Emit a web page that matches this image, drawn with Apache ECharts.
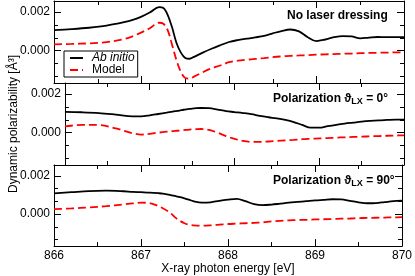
<!DOCTYPE html>
<html>
<head>
<meta charset="utf-8">
<script src="https://cdn.jsdelivr.net/npm/echarts@6/dist/echarts.min.js"></script>
<style>html,body{margin:0;padding:0;background:#fff;}#c{width:415px;height:276px;}</style>
</head>
<body>
<div id="c"></div>
<script>
// ---- data ----
const energy = [866.0, 866.2, 866.4, 866.6, 866.8, 866.9, 867.0, 867.1, 867.2, 867.25, 867.3, 867.35, 867.4, 867.45, 867.5, 867.55, 867.6, 867.7, 867.8, 867.9, 868.0, 868.1, 868.2, 868.3, 868.4, 868.5, 868.6, 868.7, 868.8, 868.9, 869.0, 869.1, 869.2, 869.3, 869.4, 869.5, 869.6, 869.7, 869.8, 869.9, 870.0];

const abInitioNoLaser = [0.00107, 0.00112, 0.00119, 0.00130, 0.00148, 0.00160, 0.00177, 0.00200, 0.00226, 0.00222, 0.00185, 0.00120, 0.00040, -0.00010, -0.00038, -0.00042, -0.00032, -0.00010, 0.00010, 0.00028, 0.00045, 0.00055, 0.00062, 0.00069, 0.00077, 0.00090, 0.00102, 0.00110, 0.00100, 0.00070, 0.00050, 0.00058, 0.00070, 0.00076, 0.00074, 0.00064, 0.00068, 0.00071, 0.00070, 0.00070, 0.00070];
const modelNoLaser = [0.00033, 0.00035, 0.00038, 0.00044, 0.00060, 0.00075, 0.00095, 0.00118, 0.00145, 0.00140, 0.00105, 0.00030, -0.00050, -0.00110, -0.00142, -0.00145, -0.00135, -0.00112, -0.00092, -0.00077, -0.00060, -0.00052, -0.00047, -0.00043, -0.00039, -0.00034, -0.00030, -0.00027, -0.00025, -0.00023, -0.00021, -0.00019, -0.00018, -0.00016, -0.00015, -0.00013, -0.00012, -0.00011, -0.00010, -0.00009, -0.00008];

const abInitioPol0 = [0.00108, 0.00106, 0.00102, 0.00094, 0.00085, 0.00085, 0.00090, 0.00097, 0.00104, 0.00108, 0.00112, 0.00115, 0.00119, 0.00122, 0.00125, 0.00127, 0.00128, 0.00127, 0.00120, 0.00112, 0.00107, 0.00102, 0.00096, 0.00087, 0.00080, 0.00074, 0.00066, 0.00055, 0.00040, 0.00026, 0.00026, 0.00034, 0.00041, 0.00047, 0.00052, 0.00057, 0.00061, 0.00064, 0.00066, 0.00068, 0.00068];
const modelPol0 = [0.00033, 0.00040, 0.00040, 0.00022, -0.00003, -0.00010, -0.00006, 0.00000, 0.00005, 0.00007, 0.00009, 0.00011, 0.00013, 0.00015, 0.00017, 0.00018, 0.00019, 0.00014, 0.00000, -0.00018, -0.00032, -0.00043, -0.00048, -0.00048, -0.00046, -0.00043, -0.00040, -0.00037, -0.00034, -0.00032, -0.00030, -0.00028, -0.00026, -0.00024, -0.00022, -0.00021, -0.00019, -0.00018, -0.00016, -0.00015, -0.00014];

const abInitioPol90 = [0.00109, 0.00115, 0.00121, 0.00123, 0.00120, 0.00117, 0.00115, 0.00113, 0.00110, 0.00108, 0.00104, 0.00099, 0.00094, 0.00089, 0.00083, 0.00076, 0.00068, 0.00060, 0.00062, 0.00070, 0.00076, 0.00080, 0.00068, 0.00052, 0.00047, 0.00050, 0.00055, 0.00060, 0.00064, 0.00068, 0.00072, 0.00075, 0.00078, 0.00077, 0.00070, 0.00062, 0.00057, 0.00058, 0.00063, 0.00068, 0.00071];
const modelPol90 = [0.00026, 0.00030, 0.00035, 0.00042, 0.00051, 0.00056, 0.00060, 0.00058, 0.00042, 0.00031, 0.00018, 0.00001, -0.00020, -0.00036, -0.00048, -0.00056, -0.00059, -0.00061, -0.00059, -0.00055, -0.00052, -0.00050, -0.00048, -0.00046, -0.00043, -0.00038, -0.00035, -0.00033, -0.00031, -0.00030, -0.00028, -0.00027, -0.00026, -0.00024, -0.00023, -0.00021, -0.00020, -0.00019, -0.00018, -0.00017, -0.00016];

const yMajorTicks = [0, 0.002];
const yMinorTicks = [-0.002 * 2 / 3, -0.002 / 3, 0.002 / 3, 0.002 * 2 / 3];
const xMin = 866, xMax = 870;
const yMin = -0.00168, yMax = 0.00258;

const panelTitles = [
  '{b|No laser dressing}',
  '{b|Polarization ϑ}{s|LX}{b| = 0°}',
  '{b|Polarization ϑ}{s|LX}{b| = 90°}'
];
const panelSeries = [
  [abInitioNoLaser, modelNoLaser],
  [abInitioPol0, modelPol0],
  [abInitioPol90, modelPol90]
];

// ---- chart ----
const FONT = 'Liberation Sans, Arial, Helvetica, sans-serif';
const chart = echarts.init(document.getElementById('c'), null, {renderer: 'canvas'});
const gridTops = [1, 83, 165];
const grids = gridTops.map(t => ({left: 54, right: 11, top: t, height: 82, containLabel: false}));
const black = {color: '#000', width: 1};

const xAxes = [], yAxes = [], series = [];
for (let i = 0; i < 3; i++) {
  ['bottom', 'top'].forEach(pos => {
    const isLabelAxis = (i === 2 && pos === 'bottom');
    xAxes.push({
      type: 'value', gridIndex: i, position: pos, min: xMin, max: xMax, interval: 1,
      axisLine: {show: true, onZero: false, lineStyle: black},
      axisTick: {show: true, inside: true, length: 7, lineStyle: black},
      minorTick: {show: true, splitNumber: 2, length: 4, lineStyle: black},
      splitLine: {show: false}, minorSplitLine: {show: false},
      axisLabel: {show: isLabelAxis, color: '#000', fontSize: 12, fontFamily: FONT, margin: 4},
      name: isLabelAxis ? 'X-ray photon energy [eV]' : '',
      nameLocation: 'middle', nameGap: 15,
      nameTextStyle: {color: '#000', fontSize: 12, fontFamily: FONT}
    });
  });
  ['left', 'right'].forEach(pos => {
    const isLeft = pos === 'left';
    yAxes.push({
      type: 'value', gridIndex: i, position: pos, min: yMin, max: yMax,
      axisLine: {show: true, onZero: false, lineStyle: black},
      axisTick: {show: true, inside: true, length: 7, lineStyle: black, customValues: yMajorTicks},
      splitLine: {show: false},
      axisLabel: {show: isLeft, customValues: yMajorTicks, color: '#000', fontSize: 12, fontFamily: FONT, margin: 4,
        formatter: v => v.toFixed(3)},
      name: (isLeft && i === 1) ? 'Dynamic polarizability [Å³]' : '',
      nameLocation: 'middle', nameGap: 41, nameRotate: 90,
      nameTextStyle: {color: '#000', fontSize: 12, fontFamily: FONT}
    });
    yAxes.push({
      type: 'value', gridIndex: i, position: pos, min: yMin, max: yMax,
      axisLine: {show: false},
      axisTick: {show: true, inside: true, length: 4, lineStyle: black, customValues: yMinorTicks},
      splitLine: {show: false},
      axisLabel: {show: false}
    });
  });
  const [abi, mod] = panelSeries[i];
  series.push({
    type: 'line', name: 'Ab initio', xAxisIndex: 2 * i, yAxisIndex: 4 * i,
    data: energy.map((e, k) => [e, abi[k]]), symbol: 'none', smooth: 0.35,
    lineStyle: {color: '#000', width: 1.8}, itemStyle: {color: '#000'}, z: 3
  });
  series.push({
    type: 'line', name: 'Model', xAxisIndex: 2 * i, yAxisIndex: 4 * i,
    data: energy.map((e, k) => [e, mod[k]]), symbol: 'none', smooth: 0.35,
    lineStyle: {color: '#ff0000', width: 1.8, type: [8, 4]}, itemStyle: {color: '#ff0000'}, z: 2
  });
}

const titleLefts = [287, 273, 273];
const titleTops = [10, 91, 173];
const titles = panelTitles.map((t, i) => ({
  text: t, left: titleLefts[i], top: titleTops[i], padding: 0,
  textStyle: {
    rich: {
      b: {fontSize: 12, fontWeight: 'bold', color: '#000', fontFamily: FONT},
      s: {fontSize: 9, fontWeight: 'bold', color: '#000', fontFamily: FONT, padding: [6, 0, 0, 0]}
    }
  }
}));

chart.setOption({
  animation: false,
  backgroundColor: '#fff',
  grid: grids,
  xAxis: xAxes,
  yAxis: yAxes,
  title: titles,
  legend: {
    data: ['Ab initio', 'Model'],
    orient: 'vertical', left: 64, top: 51,
    backgroundColor: '#fff', borderColor: '#000', borderWidth: 1,
    padding: [1, 3, 1, 5], itemGap: 0, itemWidth: 13, itemHeight: 13,
    itemStyle: {opacity: 0},
    formatter: n => n === 'Ab initio' ? '{i|Ab initio}' : '{n|Model}',
    textStyle: {
      color: '#000', fontSize: 12, fontFamily: FONT, padding: [0, 0, 0, 4],
      rich: {i: {fontStyle: 'italic', fontSize: 12, fontFamily: FONT}, n: {fontSize: 12, fontFamily: FONT}}
    }
  },
  series: series
});
</script>
</body>
</html>
